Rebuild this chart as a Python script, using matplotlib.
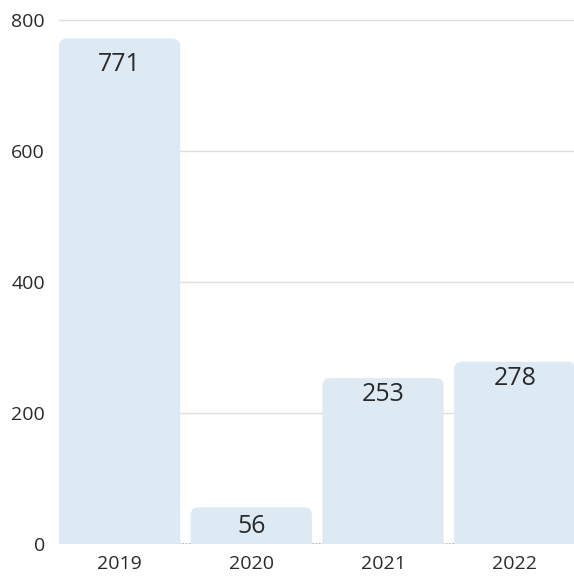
import matplotlib
matplotlib.use('Agg')
import matplotlib.pyplot as plt
from matplotlib.patches import FancyBboxPatch

years = ['2019', '2020', '2021', '2022']
values = [771, 56, 253, 278]
y_ticks = [0, 200, 400, 600, 800]

plt.rcParams['font.family'] = ['Open Sans', 'DejaVu Sans']

fig = plt.figure(figsize=(5.74, 5.77), dpi=100)
ax = fig.add_axes([59 / 574, 33 / 577, 515 / 574, 531 / 577])

x = range(len(years))
bars = ax.bar(x, values, width=0.92, color='none', zorder=2)

# swap the plain rectangles for ones with rounded top corners
for b in bars:
    bx, by = b.get_x(), b.get_y()
    w, h = b.get_width(), b.get_height()
    patch = FancyBboxPatch((bx, by - 20), w, h + 20,
                           boxstyle='round,pad=0,rounding_size=0.06',
                           mutation_aspect=200,
                           facecolor='#dde9f3', edgecolor='none', zorder=2)
    ax.add_patch(patch)
    b.remove()

# value labels near the top of each bar
offsets = [13, 7, 4, 4]
for i, v in enumerate(values):
    ax.annotate(str(v), (i, v), xytext=(0, -offsets[i]), textcoords='offset pixels',
                ha='center', va='top', fontsize=18, color='#2a2a2a', zorder=3)

ax.set_xlim(-0.46, 3.45)
ax.set_ylim(0, 810)
ax.set_yticks(y_ticks)
ax.set_xticks(list(x))
ax.set_xticklabels(years)

ax.grid(axis='y', color='#dedede', linewidth=1, zorder=1)
ax.set_axisbelow(True)
ax.axhline(0, color='#aaaaaa', linewidth=1.2, linestyle=(0, (1, 1)), zorder=1)

for s in ax.spines.values():
    s.set_visible(False)
ax.tick_params(axis='both', length=0, labelsize=14, colors='#2a2a2a')
ax.tick_params(axis='y', pad=10)
ax.tick_params(axis='x', pad=8)

fig.savefig('out.png', dpi=100)
